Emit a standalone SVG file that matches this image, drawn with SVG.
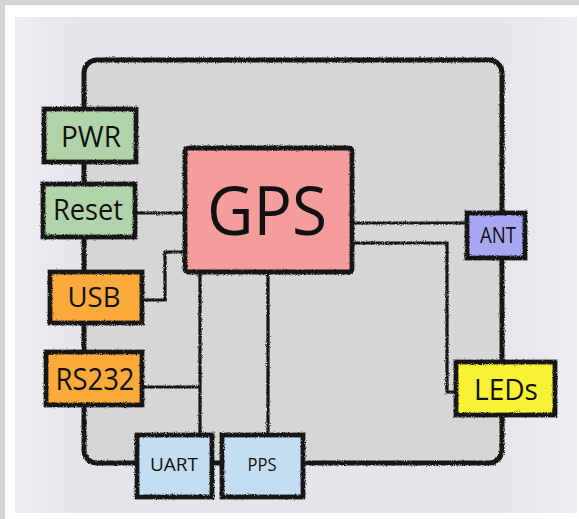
<svg xmlns="http://www.w3.org/2000/svg" width="579" height="519" viewBox="0 0 579 519">
<defs>
<filter id="rough" filterUnits="userSpaceOnUse" x="0" y="0" width="579" height="519">
<feTurbulence type="fractalNoise" baseFrequency="0.9" numOctaves="2" seed="3" result="n"/>
<feDisplacementMap in="SourceGraphic" in2="n" scale="2.8" xChannelSelector="R" yChannelSelector="G"/>
</filter>
<linearGradient id="panelg" x1="0" y1="0" x2="1" y2="0">
<stop offset="0" stop-color="#eceef1"/>
<stop offset="0.12" stop-color="#e4e5e9"/>
<stop offset="0.85" stop-color="#e4e5e9"/>
<stop offset="1" stop-color="#eceef1"/>
</linearGradient>
</defs>
<style>
.box{stroke:#141414;stroke-width:4.8;filter:url(#rough)}
.conn{fill:none;stroke:#161616;stroke-width:3.2;stroke-linejoin:miter;filter:url(#rough)}
.lbl{font-family:"Open Sans","Noto Sans",sans-serif;fill:#111111;text-anchor:middle}
.green{fill:#b1d3a9}
.orange{fill:#fbaa3a}
.blue{fill:#c4ddf4}
</style>
<rect x="0" y="0" width="579" height="519" fill="#d4d4d4"/>
<rect x="5" y="5" width="574" height="514" fill="#ffffff"/>
<rect x="15" y="17" width="562" height="496" fill="url(#panelg)"/>
<g id="board">
<rect x="84" y="60" width="418" height="403" rx="13" fill="#d6d6d6" stroke="#141414" stroke-width="5" filter="url(#rough)"/>
</g>
<g id="connectors">
<line class="conn" x1="135" y1="213" x2="185" y2="213"/>
<polyline class="conn" points="142,300 165,300 165,252 185,252"/>
<line class="conn" x1="200" y1="272" x2="200" y2="435"/>
<line class="conn" x1="142" y1="387" x2="200" y2="387"/>
<line class="conn" x1="268" y1="272" x2="268" y2="435"/>
<line class="conn" x1="352" y1="223" x2="467" y2="223"/>
<polyline class="conn" points="352,243 447,243 447,392 456,392"/>
</g>
<g id="gps">
<rect class="box" x="185" y="148" width="167" height="124" rx="3" fill="#f59d9d"/>
<text class="lbl" x="267" y="235" font-size="68" textLength="120" lengthAdjust="spacingAndGlyphs">GPS</text>
</g>
<g id="pwr">
<rect class="box green" x="44" y="109" width="92" height="53"/>
<text class="lbl" x="91" y="147" font-size="30" textLength="60" lengthAdjust="spacingAndGlyphs">PWR</text>
</g>
<g id="reset">
<rect class="box green" x="43" y="184" width="92" height="53"/>
<text class="lbl" x="88" y="220" font-size="30" textLength="70" lengthAdjust="spacingAndGlyphs">Reset</text>
</g>
<g id="usb">
<rect class="box orange" x="50" y="272" width="92" height="51"/>
<text class="lbl" x="94" y="307" font-size="28" textLength="53" lengthAdjust="spacingAndGlyphs">USB</text>
</g>
<g id="rs232">
<rect class="box orange" x="46" y="352" width="96" height="53"/>
<text class="lbl" x="95" y="390" font-size="31" textLength="79" lengthAdjust="spacingAndGlyphs">RS232</text>
</g>
<g id="uart">
<rect class="box blue" x="137" y="435" width="75" height="62"/>
<text class="lbl" x="174" y="471" font-size="19" textLength="48" lengthAdjust="spacingAndGlyphs">UART</text>
</g>
<g id="pps">
<rect class="box blue" x="222" y="435" width="81" height="62"/>
<text class="lbl" x="262" y="471" font-size="19" textLength="29" lengthAdjust="spacingAndGlyphs">PPS</text>
</g>
<g id="ant">
<rect class="box" x="467" y="213" width="58" height="45" fill="#a8a8f2"/>
<text class="lbl" x="498" y="243" font-size="21" textLength="36" lengthAdjust="spacingAndGlyphs">ANT</text>
</g>
<g id="leds">
<rect class="box" x="456" y="362" width="99" height="53" fill="#f8f234"/>
<text class="lbl" x="506" y="400" font-size="29" textLength="64" lengthAdjust="spacingAndGlyphs">LEDs</text>
</g>
</svg>
